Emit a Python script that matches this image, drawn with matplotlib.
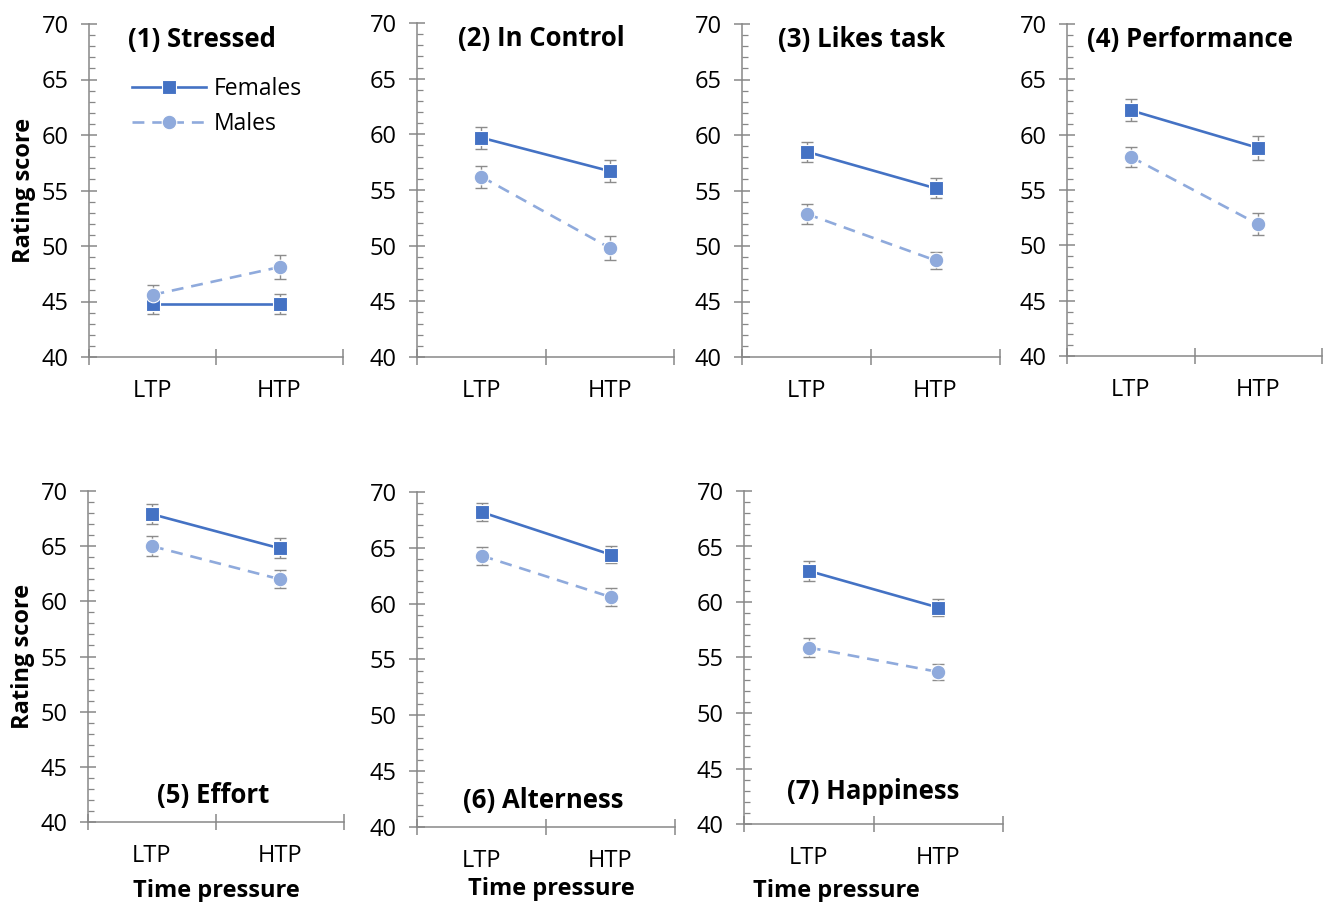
import numpy as np
import matplotlib.pyplot as plt
from matplotlib.ticker import MultipleLocator, FixedLocator, NullFormatter

plt.rcParams['font.family'] = ['Open Sans', 'DejaVu Sans']

conditions = ['LTP', 'HTP']
titles = ['(1) Stressed', '(2) In Control', '(3) Likes task', '(4) Performance',
          '(5) Effort', '(6) Alterness', '(7) Happiness']

females = [[44.8, 44.8], [59.7, 56.7], [58.5, 55.2], [62.2, 58.8],
           [67.9, 64.8], [68.2, 64.4], [62.8, 59.5]]
females_err = [[0.9, 0.9], [1.0, 1.0], [0.9, 0.9], [1.0, 1.1],
               [0.9, 0.9], [0.8, 0.8], [0.9, 0.8]]
males = [[45.6, 48.1], [56.2, 49.8], [52.9, 48.7], [58.0, 51.9],
         [65.0, 62.0], [64.3, 60.6], [55.9, 53.7]]
males_err = [[0.9, 1.1], [1.0, 1.1], [0.9, 0.8], [0.9, 1.0],
             [0.9, 0.8], [0.8, 0.8], [0.9, 0.7]]

W, H = 1326, 902
# panel boxes in pixels: left, right, top (y=70), bottom (y=40)
boxes = [(89, 343, 24, 357), (417, 674, 23, 357), (742, 1000, 24, 357), (1067, 1322, 24, 356),
         (88, 344, 491, 822), (417, 675, 492, 827), (744, 1003, 491, 824)]
title_xy = [(0.89, 68.6), (0.965, 68.6), (0.93, 68.6), (0.965, 68.6),
            (0.98, 42.4), (0.98, 42.4), (1.0, 42.9)]
xlabel_x = [None, None, None, None, 0.5, 0.52, 0.355]
xlabel_pad = [None, None, None, None, 8, 3, 6]

c_f = '#4472C4'
c_m = '#8FAADC'
c_ax = '#878787'
c_err = '#8c8c8c'

fig = plt.figure(figsize=(W / 100, H / 100), dpi=100)
x = np.array([0.5, 1.5])

for i in range(7):
    l, r, t, b = boxes[i]
    ax = fig.add_axes([l / W, 1 - b / H, (r - l) / W, (b - t) / H])
    ax.set_xlim(0, 2)
    ax.set_ylim(40, 70)

    ax.errorbar(x, females[i], yerr=females_err[i], fmt='none', ecolor=c_err,
                elinewidth=1, capsize=4, capthick=1, zorder=2)
    ax.errorbar(x, males[i], yerr=males_err[i], fmt='none', ecolor=c_err,
                elinewidth=1, capsize=4, capthick=1, zorder=2)
    ax.plot(x, females[i], '-', color=c_f, lw=1.9, marker='s', ms=10.5,
            mec='white', mew=0.8, label='Females', zorder=3,
            clip_on=False)
    ax.plot(x, males[i], '--', color=c_m, lw=1.9, marker='o', ms=10.5,
            mec='white', mew=0.8, dashes=(4.5, 3), label='Males', zorder=4,
            clip_on=False)

    for s in ['top', 'right']:
        ax.spines[s].set_visible(False)
    for s in ['left', 'bottom']:
        ax.spines[s].set_color(c_ax)
        ax.spines[s].set_linewidth(1.1)

    ax.yaxis.set_major_locator(MultipleLocator(5))
    ax.yaxis.set_minor_locator(MultipleLocator(1))
    ax.tick_params(axis='y', which='major', direction='inout', length=11,
                   width=1.1, color=c_ax, labelsize=17, pad=9)
    ax.tick_params(axis='y', which='minor', direction='in', length=4,
                   width=0.9, color=c_ax)

    ax.xaxis.set_major_locator(FixedLocator([0, 1, 2]))
    ax.xaxis.set_major_formatter(NullFormatter())
    ax.xaxis.set_minor_locator(FixedLocator(x))
    ax.set_xticklabels(conditions, minor=True)
    ax.tick_params(axis='x', which='major', direction='inout', length=12,
                   width=1.1, color=c_ax)
    ax.tick_params(axis='x', which='minor', length=0, labelsize=17, pad=16)

    ax.text(title_xy[i][0], title_xy[i][1], titles[i], ha='center', va='center',
            fontsize=18.5, fontweight='bold')

    if i in (0, 4):
        ax.set_ylabel('Rating score', fontsize=17, fontweight='bold', labelpad=4)
    if i >= 4:
        ax.set_xlabel('Time pressure', fontsize=17, fontweight='bold',
                      labelpad=xlabel_pad[i])
        ax.xaxis.label.set_x(xlabel_x[i])
    if i == 0:
        ax.legend(loc='upper left', bbox_to_anchor=(0.17, 0.84), frameon=False,
                  fontsize=16.5, handlelength=3.2, handletextpad=0.35,
                  borderaxespad=0, borderpad=0, labelspacing=0.45)

fig.savefig('out.png', dpi=100)
